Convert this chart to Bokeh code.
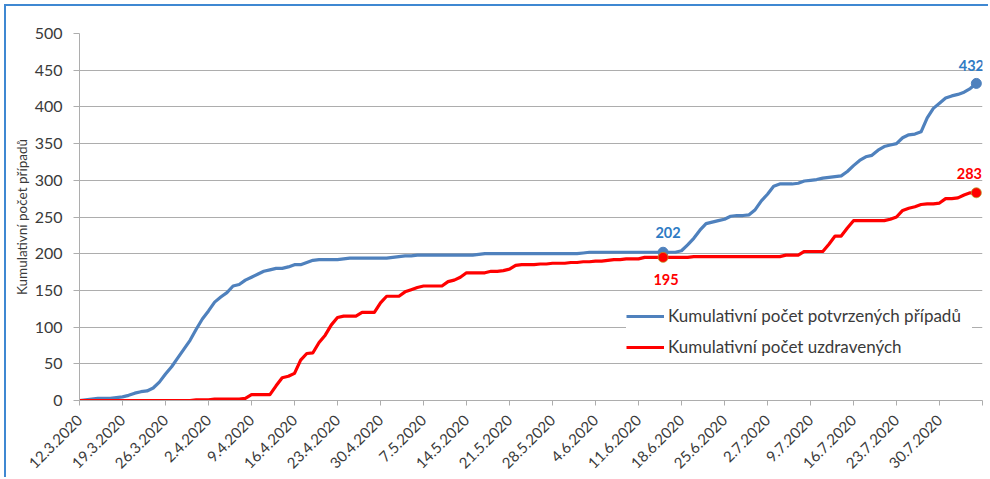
import math
from bokeh.plotting import figure
from bokeh.models import Range1d, FixedTicker, Legend, LegendItem, ColumnDataSource
from bokeh.core.properties import value
from bokeh.embed import file_html
from bokeh.resources import INLINE

# ---- data (day index 0 = 12.3.2020) ----
confirmed = [
    0, 1, 2, 3, 3, 3, 4, 5, 7, 10,
    12, 13, 17, 25, 36, 46, 58, 70, 82, 97,
    111, 122, 134, 141, 147, 156, 158, 164, 168, 172,
    176, 178, 180, 180, 182, 185, 185, 188, 191, 192,
    192, 192, 192, 193, 194, 194, 194, 194, 194, 194,
    194, 195, 196, 197, 197, 198, 198, 198, 198, 198,
    198, 198, 198, 198, 198, 199, 200, 200, 200, 200,
    200, 200, 200, 200, 200, 200, 200, 200, 200, 200,
    200, 200, 201, 202, 202, 202, 202, 202, 202, 202,
    202, 202, 202, 202, 202, 202, 202, 202, 204, 212,
    221, 232, 241, 243, 245, 247, 251, 252, 252, 253,
    260, 272, 281, 292, 295, 295, 295, 296, 299, 300,
    301, 303, 304, 305, 306, 312, 320, 327, 332, 334,
    341, 346, 348, 350, 358, 362, 363, 366, 385, 398,
    405, 412, 415, 417, 420, 425, 432,
]
recovered = [
    0, 0, 0, 0, 0, 0, 0, 0, 0, 0,
    0, 0, 0, 0, 0, 0, 0, 0, 0, 1,
    1, 1, 2, 2, 2, 2, 2, 3, 8, 8,
    8, 8, 20, 31, 33, 37, 55, 64, 65, 79,
    89, 103, 113, 115, 115, 115, 120, 120, 120, 133,
    142, 142, 142, 148, 151, 154, 156, 156, 156, 156,
    162, 164, 168, 174, 174, 174, 174, 176, 176, 177,
    179, 184, 185, 185, 185, 186, 186, 187, 187, 187,
    188, 188, 189, 189, 190, 190, 191, 192, 192, 193,
    193, 193, 195, 195, 195, 195, 195, 195, 195, 195,
    196, 196, 196, 196, 196, 196, 196, 196, 196, 196,
    196, 196, 196, 196, 196, 198, 198, 198, 203, 203,
    203, 203, 213, 224, 224, 235, 245, 245, 245, 245,
    245, 245, 247, 250, 259, 262, 264, 267, 268, 268,
    269, 275, 275, 276, 280, 283, 283,
]
days = list(range(len(confirmed)))

tick_labels = ["12.3.2020", "19.3.2020", "26.3.2020", "2.4.2020", "9.4.2020",
               "16.4.2020", "23.4.2020", "30.4.2020", "7.5.2020", "14.5.2020",
               "21.5.2020", "28.5.2020", "4.6.2020", "11.6.2020", "18.6.2020",
               "25.6.2020", "2.7.2020", "9.7.2020", "16.7.2020", "23.7.2020",
               "30.7.2020"]
tick_days = list(range(0, 148, 7))
marked_days = [95, 146]

name_confirmed = "Kumulativní počet potvrzených případů"
name_recovered = "Kumulativní počet uzdravených"
y_title = "Kumulativní počet případů"

FONT = "Lato"
TXT = "#3A3A3A"
GRID = "#ADADAD"
BLUE = "#4F81BD"
RED = "#FF0000"

p = figure(width=984, height=473, output_backend="svg", toolbar_location=None,
           x_range=Range1d(0, 147), y_range=Range1d(0, 500),
           min_border_left=73, min_border_right=8, min_border_top=27,
           min_border_bottom=79)
p.outline_line_color = None
p.background_fill_color = "white"
p.border_fill_color = "white"
p.styles = {"border-left": "2px solid #3F88D2", "border-top": "2px solid #3F88D2",
            "margin-left": "4px", "margin-top": "4px"}

# grid
p.xgrid.grid_line_color = None
p.ygrid.grid_line_color = GRID
p.ygrid.grid_line_width = 1
p.yaxis.ticker = FixedTicker(ticks=list(range(0, 501, 50)))

# axes
for ax in (p.xaxis[0], p.yaxis[0]):
    ax.axis_line_color = GRID
    ax.major_tick_line_color = GRID
    ax.minor_tick_line_color = None
    ax.major_tick_in = 0
    ax.major_label_text_font = FONT
    ax.major_label_text_color = TXT

p.xaxis.ticker = FixedTicker(ticks=tick_days)
overrides = {d: lab for d, lab in zip(tick_days, tick_labels)}
overrides[tick_days[-1]] = ""
p.xaxis.major_label_overrides = overrides
p.xaxis.major_label_orientation = math.pi / 4
p.xaxis.major_label_text_font_size = "15px"
p.xaxis.major_tick_out = 5
p.xaxis.major_label_standoff = 12

p.yaxis.major_tick_out = 6
p.yaxis.major_label_text_font_size = "16px"
p.yaxis.major_label_standoff = 11
p.yaxis.axis_label = y_title
p.yaxis.axis_label_text_font = FONT
p.yaxis.axis_label_text_font_size = "13.5px"
p.yaxis.axis_label_text_font_style = "normal"
p.yaxis.axis_label_text_color = TXT
p.yaxis.axis_label_standoff = 2

src = ColumnDataSource(dict(day=days, conf=confirmed, rec=recovered))
r1 = p.line("day", "conf", source=src, line_color=BLUE, line_width=3.2, line_join="round")
r2 = p.line("day", "rec", source=src, line_color=RED, line_width=3.2, line_join="round")

mk = ColumnDataSource(dict(day=marked_days,
                           conf=[confirmed[d] for d in marked_days],
                           rec=[recovered[d] for d in marked_days]))
p.scatter("day", "conf", source=mk, size=10, fill_color=BLUE, line_color=BLUE)
p.scatter("day", "rec", source=mk, size=10, fill_color=RED, line_color="#B89A2A", line_width=0.8)

label_specs = [
    (confirmed, "#2E7BC4", [(5, -20), (-5, -18)]),
    (recovered, RED, [(3, 22), (-7, -19)]),
]
for series, col, offs in label_specs:
    for d, (dx, dy) in zip(marked_days, offs):
        p.text(x=[d], y=[series[d]], text=[str(series[d])], x_offset=dx, y_offset=dy,
               text_font=value(FONT), text_font_size="14.5px", text_font_style="bold",
               text_color=col, text_align="center", text_baseline="middle")

legend = Legend(items=[LegendItem(label=name_confirmed, renderers=[r1]),
                       LegendItem(label=name_recovered, renderers=[r2])],
                location=(547, 43))
legend.label_text_font = FONT
legend.label_text_font_size = "17px"
legend.label_text_color = TXT
legend.border_line_color = None
legend.background_fill_color = "white"
legend.background_fill_alpha = 1
legend.padding = 4
legend.spacing = 10
legend.glyph_width = 38
legend.glyph_height = 20
legend.label_height = 20
legend.label_width = 304
legend.label_standoff = 4
legend.margin = 0
p.add_layout(legend)

open("out.html", "w").write(file_html(p, INLINE))
